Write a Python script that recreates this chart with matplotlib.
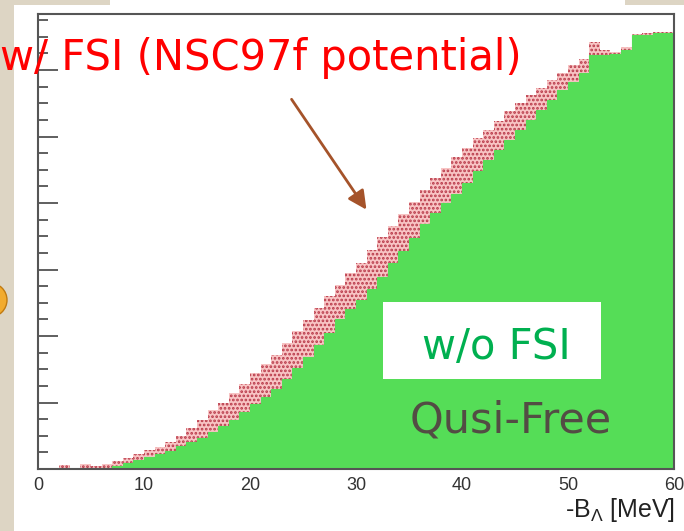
import numpy as np
import matplotlib.pyplot as plt
from matplotlib.patches import Rectangle, Circle

# 1 MeV bins, 0..60
edges = np.arange(0, 61, 1)

# w/o FSI (quasi-free), arbitrary units
qf = [0, 0, 0, 0, 0, 0, 0.02, 0.05, 0.09, 0.13,
      0.18, 0.22, 0.27, 0.34, 0.41, 0.47, 0.56, 0.64, 0.73, 0.86,
      0.97, 1.08, 1.20, 1.36, 1.52, 1.68, 1.86, 2.05, 2.25, 2.40,
      2.54, 2.70, 2.88, 3.10, 3.28, 3.48, 3.68, 3.85, 4.00, 4.14,
      4.30, 4.48, 4.65, 4.80, 4.95, 5.10, 5.25, 5.40, 5.55, 5.70,
      5.82, 5.95, 6.22, 6.22, 6.24, 6.30, 6.52, 6.52, 6.56, 6.56]

# w/ FSI (NSC97f)
fsi = [0, 0, 0.06, 0.02, 0.07, 0.05, 0.08, 0.12, 0.17, 0.22,
       0.28, 0.33, 0.40, 0.50, 0.62, 0.74, 0.88, 1.00, 1.14, 1.28,
       1.44, 1.58, 1.72, 1.90, 2.07, 2.24, 2.42, 2.60, 2.76, 2.94,
       3.10, 3.30, 3.49, 3.66, 3.84, 4.02, 4.20, 4.38, 4.53, 4.69,
       4.83, 4.97, 5.10, 5.24, 5.38, 5.50, 5.62, 5.73, 5.85, 5.96,
       6.07, 6.17, 6.42, 6.30, 6.27, 6.35, 6.54, 6.55, 6.57, 6.57]

xticks = [0, 10, 20, 30, 40, 50, 60]

plt.rcParams['hatch.linewidth'] = 1.3
plt.rcParams['mathtext.fontset'] = 'custom'
plt.rcParams['mathtext.rm'] = 'Liberation Sans'
plt.rcParams['mathtext.it'] = 'Liberation Sans:italic'

W, H = 684, 531
fig = plt.figure(figsize=(W / 100, H / 100), dpi=100)
fig.patch.set_facecolor('#ddd5c4')

# white slide panel
fig.patches.append(Rectangle((14, 0), W - 14, H - 5, transform=None,
                             facecolor='white', edgecolor='none', zorder=-2))
fig.patches.append(Rectangle((110, H - 6), 515, 6, transform=None,
                             facecolor='white', edgecolor='none', zorder=-2))
fig.patches.append(Circle((-10, H - 300), 17, transform=None,
                          facecolor='#f2ab2e', edgecolor='#c07a10', lw=1, zorder=-1))

ax = fig.add_axes([38 / W, (H - 469) / H, 636 / W, 455 / H])
ax.set_facecolor('white')

ax.stairs(fsi, edges, fill=True, facecolor='#f8c4c4', edgecolor='#b83848',
          hatch='....', linewidth=0, zorder=2)
ax.stairs(qf, edges, fill=True, facecolor='#55dd57', edgecolor='#55dd57',
          linewidth=0.8, zorder=3)

ax.set_xlim(0, 60)
ax.set_ylim(0, 455 / 66.5)
ax.set_xticks(xticks)
ax.set_xticklabels([str(t) for t in xticks], fontfamily='Liberation Sans',
                   fontsize=13, color='#333333')
ax.tick_params(axis='x', length=0, pad=6)
ax.set_yticks(np.arange(0, 7, 1))
ax.set_yticks(np.arange(0, 6.84, 0.25), minor=True)
ax.set_yticklabels([])
ax.tick_params(axis='y', which='major', direction='in', length=14.5,
               width=1.2, color='#444444')
ax.tick_params(axis='y', which='minor', direction='in', length=7.2,
               width=1.2, color='#444444')
for s in ax.spines.values():
    s.set_color('#555555')
    s.set_linewidth(1.5)
    s.set_zorder(5)

fig.text(675, 14, r'-B$_{\Lambda}$ [MeV]', transform=None, ha='right',
         va='baseline', fontsize=18, color='#222222', fontfamily='Liberation Sans')

fig.text(522, H - 70, 'w/ FSI (NSC97f potential)', transform=None, ha='right',
         va='baseline', fontsize=30, color='#ff0000', fontfamily='DejaVu Sans')

ax.annotate('', xy=(368, H - 212), xycoords='figure pixels',
            xytext=(290, H - 97), textcoords='figure pixels',
            arrowprops=dict(arrowstyle='-|>', color='#a5532a', lw=2,
                            mutation_scale=28))

fig.patches.append(Rectangle((383, H - 379), 218, 77, transform=None,
                             facecolor='white', edgecolor='none', zorder=6))
fig.text(496, H - 359, 'w/o FSI', transform=None, ha='center', va='baseline',
         fontsize=30, color='#00b050', fontfamily='DejaVu Sans', zorder=7)
fig.text(511, H - 433, 'Qusi-Free', transform=None, ha='center', va='baseline',
         fontsize=31, color='#534c44', fontfamily='DejaVu Sans', zorder=7)

fig.savefig('out.png', dpi=100, facecolor=fig.get_facecolor())
